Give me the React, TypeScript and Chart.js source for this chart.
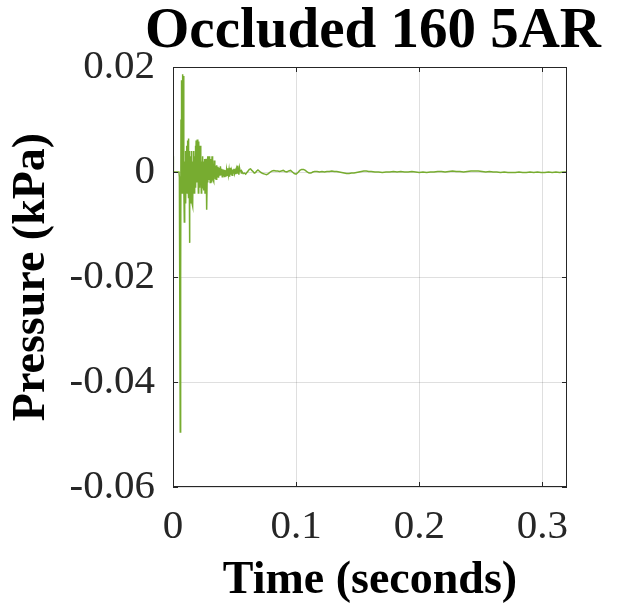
import { useEffect, useRef } from 'react';
import { Chart, registerables } from 'chart.js';

Chart.register(...registerables);

const titleText = 'Occluded 160 5AR';
const xAxisTitle = 'Time (seconds)';
const yAxisTitle = 'Pressure (kPa)';
const xRange = [0, 0.32];
const yRange = [-0.06, 0.02];
const xTickValues = [0, 0.1, 0.2, 0.3];
const xTickLabels = ['0', '0.1', '0.2', '0.3'];
const yTickValues = [-0.06, -0.04, -0.02, 0, 0.02];
const yTickLabels = ['-0.06', '-0.04', '-0.02', '0', '0.02'];

const timeValues = [
  0, 0.0003, 0.001, 0.003, 0.0048,
  0.0052, 0.0056, 0.0059, 0.0062, 0.0065, 0.0068, 0.0071, 0.0074, 0.0077, 0.008,
  0.0083, 0.0086, 0.0089, 0.0092, 0.0095, 0.0098, 0.0101, 0.0104, 0.0107, 0.011,
  0.0113, 0.0116, 0.0119, 0.0122, 0.0125, 0.0128, 0.0131, 0.0134, 0.0137, 0.014,
  0.0143, 0.0146, 0.0149, 0.0152, 0.0155, 0.0158, 0.0161, 0.0164, 0.0167, 0.017,
  0.0173, 0.0176, 0.0179, 0.0182, 0.0185, 0.0188, 0.0191, 0.0194, 0.0197, 0.02,
  0.0203, 0.0206, 0.0209, 0.0212, 0.0215, 0.0218, 0.0221, 0.0224, 0.0227, 0.023,
  0.0233, 0.0236, 0.0239, 0.0242, 0.0245, 0.0248, 0.0251, 0.0254, 0.0257, 0.026,
  0.0263, 0.0266, 0.0269, 0.0272, 0.0275, 0.0278, 0.0281, 0.0284, 0.0287, 0.029,
  0.0293, 0.0296, 0.0299, 0.0302, 0.0305, 0.0308, 0.0311, 0.0314, 0.0317, 0.032,
  0.0323, 0.0326, 0.0329, 0.0332, 0.0335, 0.0338, 0.0341, 0.0344, 0.0347, 0.035,
  0.0355, 0.036, 0.0365, 0.037, 0.0375, 0.038, 0.0385, 0.039, 0.0395, 0.04,
  0.0405, 0.041, 0.0415, 0.042, 0.0425, 0.043, 0.0435, 0.044, 0.0445, 0.045,
  0.0455, 0.046, 0.0465, 0.047, 0.0475, 0.048, 0.0485, 0.049, 0.0495, 0.05,
  0.0505, 0.051, 0.0515, 0.052, 0.0525, 0.053, 0.0535, 0.054, 0.0545, 0.055,
  0.0555, 0.056, 0.057, 0.058, 0.059, 0.06, 0.061, 0.062, 0.063, 0.064,
  0.065, 0.066, 0.067, 0.068, 0.069, 0.07, 0.0715, 0.073, 0.0745, 0.076,
  0.0775, 0.079, 0.0805, 0.082, 0.0835, 0.085, 0.0865, 0.088, 0.0895, 0.091,
  0.0925, 0.094, 0.0955, 0.097, 0.0985, 0.1, 0.1015, 0.103, 0.1045, 0.106,
  0.1075, 0.109, 0.1105, 0.112, 0.1135, 0.115, 0.117, 0.119, 0.121, 0.123,
  0.125, 0.127, 0.129, 0.131, 0.133, 0.135, 0.137, 0.139, 0.141, 0.143,
  0.145, 0.147, 0.149, 0.151, 0.153, 0.155, 0.157, 0.159, 0.161, 0.164,
  0.167, 0.17, 0.173, 0.176, 0.179, 0.182, 0.185, 0.188, 0.191, 0.194,
  0.197, 0.2, 0.203, 0.206, 0.209, 0.212, 0.215, 0.218, 0.221, 0.224,
  0.227, 0.23, 0.233, 0.236, 0.239, 0.242, 0.245, 0.248, 0.251, 0.254,
  0.257, 0.26, 0.263, 0.266, 0.269, 0.272, 0.275, 0.278, 0.281, 0.284,
  0.287, 0.29, 0.293, 0.296, 0.299, 0.302, 0.305, 0.308, 0.311, 0.314,
  0.317, 0.32,
];

const pressureValues = [
  0.003, 0.0001, 0.0, 0.0, 0.0,
  -0.001, -0.03, -0.0495, -0.02, 0.01, 0.0175, 0.005, -0.004, 0.012, 0.0186,
  0.008, 0.0183, -0.002, -0.0095, 0.002, -0.004, 0.004, -0.006, 0.002, -0.003,
  0.005, -0.004, 0.006, -0.002, 0.0064, -0.005, 0.004, -0.0135, -0.004, 0.003,
  -0.006, 0.002, -0.003, 0.004, -0.006, 0.001, -0.0065, 0.002, -0.002, 0.004,
  -0.004, 0.003, -0.002, 0.005, -0.003, 0.006, -0.002, 0.003, 0.0062, -0.001,
  0.004, -0.004, 0.0058, 0.0, 0.0045, -0.003, 0.005, -0.002, 0.003, -0.004,
  0.002, -0.003, 0.003, -0.002, 0.0015, -0.0035, 0.002, -0.003, 0.0025, -0.004,
  0.001, -0.002, 0.0025, -0.003, -0.0072, 0.0, 0.003, -0.002, 0.0028, -0.0015,
  0.003, -0.001, 0.002, -0.002, 0.0025, -0.0015, 0.0015, -0.002, 0.003, -0.001,
  0.0018, -0.0015, 0.0012, -0.0018, 0.0022, -0.0008, 0.0015, -0.0012, 0.0012, -0.0014,
  0.0013, -0.0009, 0.001, -0.0011, 0.0008, -0.0007, 0.0011, -0.0005, 0.0006, -0.0009,
  0.0005, -0.0008, 0.0004, -0.001, 0.0003, -0.0009, 0.0004, -0.0006, 0.0007, -0.0005,
  0.0004, -0.0009, 0.0008, -0.0005, 0.0002, -0.0006, 0.0005, -0.0002, 0.0006, -0.0003,
  0.0002, -0.0004, 0.0005, -0.0002, 0.0012, 0.0003, -0.0005, 0.0008, 0.0002, 0.0004,
  -0.0002, 0.0001, -0.0003, -0.0002, -0.0004, -0.0001, 0.0002, 0.0005, 0.0006, 0.0003,
  0.0001, -0.0002, -0.0001, 0.0002, 0.0004, 0.0002, -0.0001, -0.0003, -0.0004, -0.0005,
  -0.0003, 0.0, 0.0002, 0.0003, 0.0002, 0.0002, 0.0001, 0.0002, 0.0003, 0.0001,
  0.0, 0.0002, 0.0003, 0.0, -0.0003, -0.0004, -0.0001, 0.0003, 0.0005, 0.0005,
  0.0003, 0.0, -0.0002, -0.0002, 0.0, 0.0001, 0.0001, 0.0, 0.0001, 0.0,
  0.0001, 0.0001, 0.0002, 0.0001, 0.0001, 0.0, -0.0001, -0.0002, -0.0003, -0.0003,
  -0.0002, -0.0002, -0.0001, 0.0, 0.0001, 0.0002, 0.0002, 0.0001, 0.0001, 0.0,
  0.0, -0.0001, 0.0, 0.0, 0.0001, 0.0, 0.0001, 0.0, 0.0, 0.0001,
  0.0, -0.0001, 0.0, -0.0001, 0.0, 0.0, 0.0001, 0.0001, 0.0, 0.0001,
  0.0002, 0.0001, 0.0001, 0.0, 0.0001, 0.0002, 0.0002, 0.0002, 0.0001, 0.0,
  0.0001, 0.0, 0.0, -0.0001, 0.0, -0.0001, -0.0001, -0.0001, 0.0, -0.0001,
  -0.0001, 0.0, -0.0001, 0.0, -0.0001, -0.0001, 0.0, -0.0001, 0.0, -0.0001,
  0.0, 0.0,
];

const lineColor = '#77AC30';
const axisColor = '#262626';
const gridColor = 'rgba(38,38,38,0.15)';
const serif = "'Liberation Serif', 'Times New Roman', serif";

const titlePlugin = {
  id: 'plotTitle',
  afterDraw(chart: any) {
    const { ctx, chartArea: a } = chart;
    ctx.save();
    ctx.font = `bold 57px ${serif}`;
    ctx.fillStyle = '#000000';
    ctx.textAlign = 'center';
    ctx.textBaseline = 'alphabetic';
    ctx.fillText(titleText, (a.left + a.right) / 2 + 3, 47);
    ctx.restore();
  },
};

const framePlugin = {
  id: 'matlabFrame',
  afterDatasetsDraw(chart: any) {
    const { ctx, chartArea: a, scales } = chart;
    ctx.save();
    ctx.strokeStyle = axisColor;
    ctx.lineWidth = 1;
    ctx.beginPath();
    const len = 5;
    xTickValues.forEach((v) => {
      const x = Math.round(scales.x.getPixelForValue(v)) + 0.5;
      ctx.moveTo(x, a.bottom);
      ctx.lineTo(x, a.bottom - len);
      ctx.moveTo(x, a.top);
      ctx.lineTo(x, a.top + len);
    });
    yTickValues.forEach((v) => {
      const y = Math.round(scales.y.getPixelForValue(v)) + 0.5;
      ctx.moveTo(a.left, y);
      ctx.lineTo(a.left + len, y);
      ctx.moveTo(a.right, y);
      ctx.lineTo(a.right - len, y);
    });
    ctx.stroke();
    ctx.strokeRect(Math.round(a.left) + 0.5, Math.round(a.top) + 0.5, Math.round(a.width) - 1, Math.round(a.height) - 1);
    ctx.restore();
  },
};

export default function App() {
  const canvasRef = useRef<HTMLCanvasElement | null>(null);

  useEffect(() => {
    document.body.style.margin = '0';
    const canvas = canvasRef.current;
    if (!canvas) return;
    const points = timeValues.map((t, i) => ({ x: t, y: pressureValues[i] }));
    const chart = new Chart(canvas, {
      type: 'line',
      data: {
        datasets: [
          {
            data: points,
            borderColor: lineColor,
            borderWidth: 1.5,
            pointRadius: 0,
            tension: 0,
            fill: false,
          },
        ],
      },
      options: {
        animation: false,
        responsive: false,
        devicePixelRatio: 1,
        layout: { padding: { left: 0, right: 59, top: 67, bottom: 0 } },
        plugins: {
          legend: { display: false },
          tooltip: { enabled: false },
          title: { display: false },
        },
        scales: {
          x: {
            type: 'linear',
            min: xRange[0],
            max: xRange[1],
            afterBuildTicks: (scale: any) => {
              scale.ticks = xTickValues.map((v) => ({ value: v }));
            },
            afterFit: (scale: any) => {
              scale.height = 122;
            },
            ticks: {
              color: axisColor,
              font: { family: serif, size: 41 },
              padding: 16,
              maxRotation: 0,
              autoSkip: false,
              callback: (value: any) => {
                const i = xTickValues.findIndex((v) => Math.abs(v - value) < 1e-9);
                return i >= 0 ? xTickLabels[i] : '';
              },
            },
            grid: { color: gridColor, drawTicks: false, lineWidth: 1 },
            border: { display: false },
            title: {
              display: true,
              text: xAxisTitle,
              color: '#000000',
              font: { family: serif, size: 46, weight: 'bold', lineHeight: 1.2 },
              padding: { top: 0, bottom: 0 },
            },
          },
          y: {
            type: 'linear',
            min: yRange[0],
            max: yRange[1],
            afterBuildTicks: (scale: any) => {
              scale.ticks = yTickValues.map((v) => ({ value: v }));
            },
            afterFit: (scale: any) => {
              scale.width = 173;
            },
            ticks: {
              color: axisColor,
              font: { family: serif, size: 41 },
              padding: 18,
              autoSkip: false,
              callback: (value: any) => {
                const i = yTickValues.findIndex((v) => Math.abs(v - value) < 1e-9);
                return i >= 0 ? yTickLabels[i] : '';
              },
            },
            grid: { color: gridColor, drawTicks: false, lineWidth: 1 },
            border: { display: false },
            title: {
              display: true,
              text: yAxisTitle,
              color: '#000000',
              font: { family: serif, size: 46, weight: 'bold', lineHeight: 1.2 },
              padding: { top: 5, bottom: 0 },
            },
          },
        },
      },
      plugins: [framePlugin, titlePlugin],
    });
    return () => {
      chart.destroy();
    };
  }, []);

  return (
    <div style={{ width: 626, height: 609, background: '#ffffff' }}>
      <canvas ref={canvasRef} width={626} height={609} style={{ width: 626, height: 609, display: 'block' }} />
    </div>
  );
}
